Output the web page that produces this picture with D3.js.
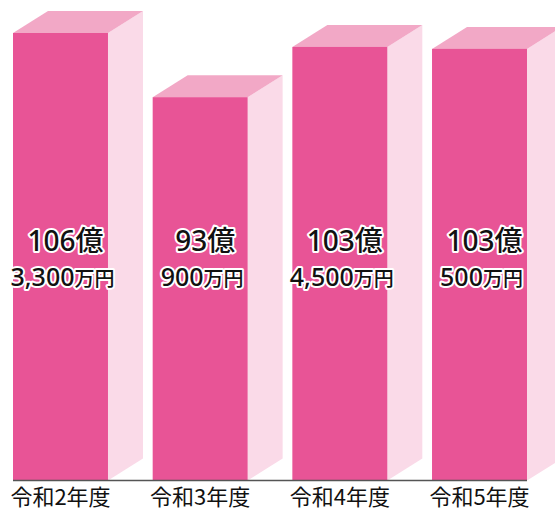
<!DOCTYPE html>
<html lang="ja">
<head>
  <meta charset="UTF-8">
  <title>予算推移</title>
  <script src="https://cdn.jsdelivr.net/npm/d3@7/dist/d3.min.js"></script>
  <style>
    body { margin: 0; background: #fff; }
    text { font-family: "Noto Sans CJK JP", "Noto Sans", sans-serif; }
    .val { font-family: "Noto Sans", "Noto Sans CJK JP", sans-serif; font-weight: 500;
      fill: #111; stroke: #fff; stroke-width: 4px; stroke-linejoin: round; paint-order: stroke; }
  </style>
</head>
<body>
  <svg id="chart" width="555" height="511"></svg>
  <script>
    // データ
    const years = ['令和2年度', '令和3年度', '令和4年度', '令和5年度'];
    const oku = [106, 93, 103, 103];       // 億
    const man = [3300, 900, 4500, 500];    // 万円

    const total = oku.map((d, i) => d + man[i] / 10000); // 億円

    const svg = d3.select('#chart');
    const baseY = 480.5,
      depthX = 35, // 奥行き
      depthY = -22;

    const x = d3.scaleBand()
      .domain(years)
      .range([13, 527])
      .paddingInner(0.32)
      .paddingOuter(0);

    // 高さは見た目に合わせて下端を切り詰め
    const y = d3.scaleLinear()
      .domain([14, 106.33])
      .range([baseY, 33]);

    const bw = x.bandwidth();

    const bars = svg.append('g')
      .selectAll('g')
      .data(years)
      .join('g');

    // 側面
    bars.append('path')
      .attr('fill', '#FADAE8')
      .attr('d', (d, i) => {
        let x1 = x(d) + bw, t = y(total[i]);
        return `M${x1} ${t} L${x1 + depthX} ${t + depthY} L${x1 + depthX} ${baseY + depthY} L${x1} ${baseY} Z`;
      });

    // 上面
    bars.append('path')
      .attr('fill', '#F2A8C6')
      .attr('d', (d, i) => {
        let x0 = x(d), t = y(total[i]);
        return `M${x0} ${t} L${x0 + depthX} ${t + depthY} L${x0 + bw + depthX} ${t + depthY} L${x0 + bw} ${t} Z`;
      });

    // 正面
    bars.append('rect')
      .attr('x', d => x(d))
      .attr('y', (d, i) => y(total[i]))
      .attr('width', bw)
      .attr('height', (d, i) => baseY - y(total[i]))
      .attr('fill', '#E85496');

    // 基線
    svg.append('line')
      .attr('x1', x.range()[0])
      .attr('x2', x.range()[1])
      .attr('y1', baseY)
      .attr('y2', baseY)
      .attr('stroke', '#555')
      .attr('stroke-width', 1.5);

    // 金額ラベル
    bars.append('text')
      .attr('class', 'val')
      .attr('x', d => x(d) + bw / 2 + 5)
      .attr('y', 251)
      .attr('text-anchor', 'middle')
      .attr('font-size', '28px')
      .text((d, i) => oku[i] + '億');

    let sub = bars.append('text')
      .attr('class', 'val')
      .attr('x', d => x(d) + bw / 2 + 2)
      .attr('y', 286)
      .attr('text-anchor', 'middle')
      .attr('font-size', '25px');
    sub.append('tspan')
      .text((d, i) => d3.format(',')(man[i]));
    sub.append('tspan')
      .attr('font-size', '20px')
      .text('万円');

    // 年度ラベル
    svg.append('g')
      .selectAll('text')
      .data(years)
      .join('text')
      .attr('x', d => x(d) + bw / 2)
      .attr('y', 505)
      .attr('text-anchor', 'middle')
      .attr('font-size', '22px')
      .attr('fill', '#111')
      .text(d => d);
  </script>
</body>
</html>
